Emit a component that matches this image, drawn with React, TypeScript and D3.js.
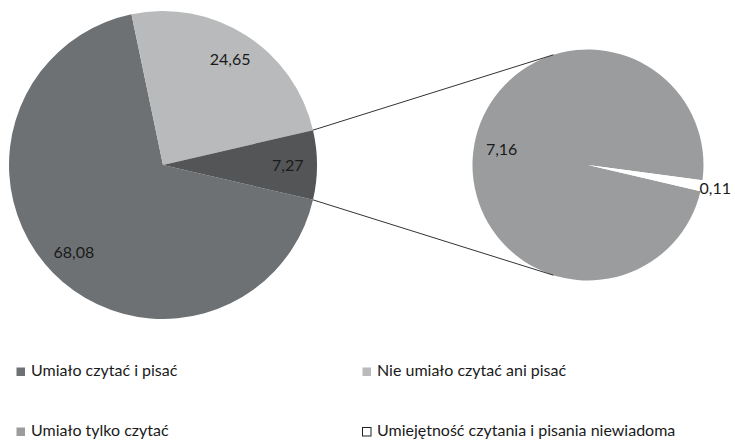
import React from "react";
import * as d3 from "d3";

const categories = [
  "Umiało czytać i pisać",
  "Nie umiało czytać ani pisać",
  "Umiało tylko czytać",
  "Umiejętność czytania i pisania niewiadoma",
];
const values = [68.08, 24.65, 7.16, 0.11];
const colors = ["#6e7173", "#b8babb", "#9a9c9d", "#ffffff"];
const otherColor = "#545557";
const splitIndex = 2; // categories from this index go to the secondary pie

const W = 735;
const H = 442;
const FONT = "Lato, 'Open Sans', sans-serif";
const fmt = (v: number) => d3.format(".2f")(v).replace(".", ",");
const deg = Math.PI / 180;

export default function App() {
  const mainC = { x: 163, y: 165, r: 154 };
  const subC = { x: 588, y: 165, r: 115.5 };

  const otherVal = +d3.sum(values.slice(splitIndex)).toFixed(2);
  const mainData = [
    ...values.slice(0, splitIndex).map((v, i) => ({ v, color: colors[i], key: "m" + i })),
    { v: otherVal, color: otherColor, key: "other" },
  ];
  const total = d3.sum(mainData, (d) => d.v);
  // centre the "other" slice on the right (90°)
  const otherSpan = (otherVal / total) * 360;
  const start = (90 + otherSpan / 2) * deg;

  const mainPie = d3
    .pie<any>()
    .value((d) => d.v)
    .sort(null)
    .startAngle(start)
    .endAngle(start + 2 * Math.PI);
  const mainArcs = mainPie(mainData);

  const subData = values.slice(splitIndex).map((v, i) => ({
    v,
    color: colors[i + splitIndex],
    key: "s" + i,
  }));
  const subPie = d3
    .pie<any>()
    .value((d) => d.v)
    .sort(null)
    .startAngle(start)
    .endAngle(start + 2 * Math.PI);
  const subArcs = subPie(subData);

  const arcMain = d3.arc<any>().innerRadius(0).outerRadius(mainC.r);
  const arcSub = d3.arc<any>().innerRadius(0).outerRadius(subC.r);
  const labelMain = d3.arc<any>().innerRadius(mainC.r * 0.81).outerRadius(mainC.r * 0.81);
  const labelSubIn = d3.arc<any>().innerRadius(subC.r * 0.76).outerRadius(subC.r * 0.76);
  const labelSubOut = d3.arc<any>().innerRadius(subC.r * 1.12).outerRadius(subC.r * 1.12);

  // connector lines: from the edges of "other" slice to tangent points on secondary pie
  const other = mainArcs[mainArcs.length - 1];
  const edgePt = (a: number) => ({
    x: mainC.x + mainC.r * Math.sin(a),
    y: mainC.y - mainC.r * Math.cos(a),
  });
  const tangent = (p: { x: number; y: number }, sign: number) => {
    const vx = p.x - subC.x;
    const vy = p.y - subC.y;
    const d = Math.hypot(vx, vy);
    const th = Math.atan2(vy, vx);
    const al = Math.acos(subC.r / d);
    const t = th + sign * al;
    return { x: subC.x + subC.r * Math.cos(t), y: subC.y + subC.r * Math.sin(t) };
  };
  const pTop = edgePt(other.startAngle);
  const pBot = edgePt(other.endAngle);
  const tTop = tangent(pTop, 1);
  const tBot = tangent(pBot, -1);

  const legendPos = [
    { x: 16, y: 367 },
    { x: 362, y: 367 },
    { x: 16, y: 427 },
    { x: 362, y: 427 },
  ];

  return (
    <svg
      width={W}
      height={H}
      style={{ position: "absolute", left: 0, top: 0, background: "#fff" }}
      fontFamily={FONT}
    >
      <g transform={`translate(${mainC.x},${mainC.y})`}>
        {mainArcs.map((a) => (
          <path key={a.data.key} d={arcMain(a) as string} fill={a.data.color} />
        ))}
        {mainArcs.map((a) => {
          const [x, y] = labelMain.centroid(a);
          return (
            <text key={"l" + a.data.key} x={x} y={y} dy="0.35em" textAnchor="middle" fontSize={16} fill="#1a1a1a">
              {fmt(a.data.v)}
            </text>
          );
        })}
      </g>
      <g transform={`translate(${subC.x},${subC.y})`}>
        {subArcs.map((a) => (
          <path key={a.data.key} d={arcSub(a) as string} fill={a.data.color} />
        ))}
        {subArcs.map((a) => {
          const small = a.endAngle - a.startAngle < 0.3;
          const [x, y] = (small ? labelSubOut : labelSubIn).centroid(a);
          return (
            <text key={"l" + a.data.key} x={x} y={y} dy="0.35em" textAnchor="middle" fontSize={16} fill="#1a1a1a">
              {fmt(a.data.v)}
            </text>
          );
        })}
      </g>
      <line x1={pTop.x} y1={pTop.y} x2={tTop.x} y2={tTop.y} stroke="#333" strokeWidth={1} />
      <line x1={pBot.x} y1={pBot.y} x2={tBot.x} y2={tBot.y} stroke="#333" strokeWidth={1} />
      {categories.map((c, i) => {
        const p = legendPos[i];
        return (
          <g key={c}>
            <rect
              x={p.x + 0.5}
              y={p.y + 0.5}
              width={8.5}
              height={8.5}
              fill={colors[i]}
              stroke={colors[i] === "#ffffff" ? "#222" : "none"}
              strokeWidth={1}
            />
            <text x={p.x + 15} y={p.y + 9} fontSize={16} fill="#1a1a1a">
              {c}
            </text>
          </g>
        );
      })}
    </svg>
  );
}
